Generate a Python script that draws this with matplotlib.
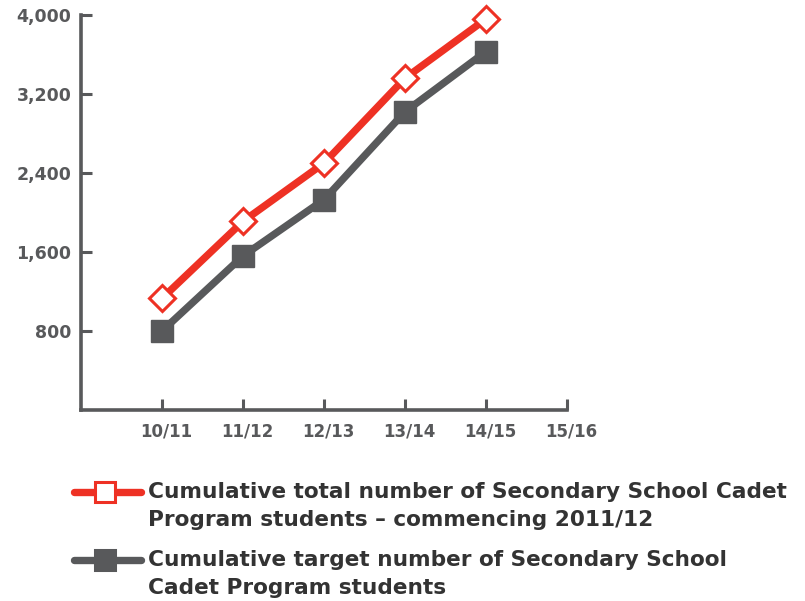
import matplotlib.pyplot as plt
import matplotlib.transforms as mtransforms
from matplotlib.lines import Line2D

# data
years = ['10/11', '11/12', '12/13', '13/14', '14/15', '15/16']
total_students = [1130, 1910, 2500, 3360, 3960]
target_students = [800, 1560, 2130, 3020, 3630]
y_ticks = [800, 1600, 2400, 3200, 4000]

RED = '#EE3124'
GREY = '#58595B'
plt.rcParams['font.family'] = ['DejaVu Sans']
plt.rcParams['font.weight'] = 'bold'

fig = plt.figure(figsize=(8.05, 6.01), dpi=100)
ax = fig.add_axes([81 / 805, 1 - 410 / 601, (567 - 81) / 805, (410 - 15) / 601])

x = list(range(len(total_students)))
ax.plot(x, target_students, color=GREY, lw=5.3, marker='s', markersize=15.5,
        markerfacecolor=GREY, markeredgecolor=GREY, clip_on=False, zorder=3)
ax.plot(x, total_students, color=RED, lw=5.3, marker='D', markersize=13.5,
        markerfacecolor='white', markeredgecolor=RED, markeredgewidth=2.2,
        clip_on=False, zorder=4)

ax.set_xlim(-1, 5)
ax.set_ylim(0, 4000)
ax.set_xticks(range(len(years)))
ax.set_xticklabels(years)
ax.set_yticks(y_ticks)
ax.set_yticklabels([f'{v:,}' for v in y_ticks])

for s in ['top', 'right']:
    ax.spines[s].set_visible(False)
for s in ['left', 'bottom']:
    ax.spines[s].set_linewidth(2.6)
    ax.spines[s].set_color(GREY)
    ax.spines[s].set_capstyle('projecting')
ax.tick_params(direction='in', length=8, width=2.2, color=GREY,
               labelcolor=GREY)
ax.tick_params(axis='y', pad=7, labelsize=12.5)
ax.tick_params(axis='x', pad=9, labelsize=12)
shift = mtransforms.ScaledTranslation(4 / 100, 0, fig.dpi_scale_trans)
for lbl in ax.get_xticklabels():
    lbl.set_transform(lbl.get_transform() + shift)

# legend drawn by hand below the chart
legend_items = [
    (RED, 's', 'white', 'Cumulative total number of Secondary School Cadet\nProgram students \u2013 commencing 2011/12', 1 - 506 / 601),
    (GREY, 's', GREY, 'Cumulative target number of Secondary School\nCadet Program students', 1 - 574 / 601),
]
for col, mk, fc, label, yc in legend_items:
    ym = yc + 14 / 601
    fig.add_artist(Line2D([74 / 805, 141 / 805], [ym, ym], color=col, lw=5.3,
                          solid_capstyle='round', transform=fig.transFigure))
    fig.add_artist(Line2D([105 / 805], [ym], marker=mk, markersize=14,
                          markerfacecolor=fc, markeredgecolor=col,
                          markeredgewidth=2.2, transform=fig.transFigure))
    fig.text(148 / 805, yc, label, color='#333333', fontsize=15.6,
             fontweight='bold', va='center', ha='left', linespacing=1.45)

fig.savefig('out.png', dpi=100)
